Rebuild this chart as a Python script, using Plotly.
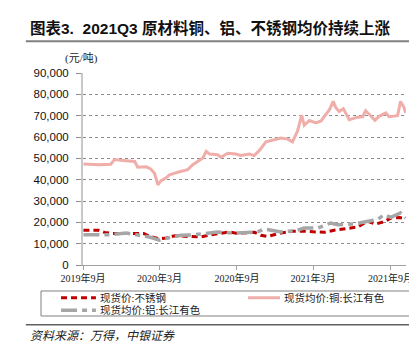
import plotly.graph_objects as go

# ---- data ----
copper_dates = ["2019-09-02","2019-10-09","2019-11-06","2019-11-15","2019-12-05","2019-12-24","2020-01-02",
    "2020-01-09","2020-01-29","2020-02-09","2020-02-18","2020-02-26","2020-03-04","2020-03-14","2020-03-25",
    "2020-04-13","2020-05-07","2020-05-19","2020-05-31","2020-06-12","2020-06-20","2020-06-28","2020-07-17",
    "2020-07-25","2020-08-10","2020-08-29","2020-09-10","2020-10-01","2020-10-12","2020-10-24","2020-11-09",
    "2020-11-29","2020-12-15","2020-12-31","2021-01-11","2021-01-23","2021-02-02","2021-02-08","2021-02-20",
    "2021-03-08","2021-03-20","2021-03-28","2021-04-09","2021-04-18","2021-04-24","2021-05-02","2021-05-12",
    "2021-05-26","2021-06-15","2021-06-27","2021-07-04","2021-07-16","2021-07-26","2021-08-05","2021-08-21",
    "2021-08-29","2021-09-18","2021-09-25","2021-10-03","2021-10-07"]
copper_values = [47300,47000,47200,49400,49000,48700,48500,
    45800,46000,45000,43000,37600,39400,40500,42300,
    43500,44700,47000,48500,50200,53300,52000,51700,
    50500,52400,52000,51300,52000,51300,53600,57700,
    58600,59500,59000,57700,62700,70200,65500,67700,
    66600,67500,69700,72800,76700,73900,72000,73300,
    68100,69300,69500,72300,70000,67800,69700,71300,
    69500,70000,76700,73900,71300]

steel_dates = ["2019-09-02","2019-10-07","2019-10-22","2019-11-07","2019-12-29","2020-01-25","2020-02-06",
    "2020-03-01","2020-03-17","2020-04-06","2020-05-07","2020-06-08","2020-07-02","2020-08-14","2020-08-30",
    "2020-09-27","2020-10-13","2020-10-28","2020-11-13","2020-12-15","2021-01-11","2021-02-08","2021-03-28",
    "2021-04-20","2021-05-14","2021-06-15","2021-07-08","2021-07-28","2021-08-17","2021-09-02","2021-09-22",
    "2021-10-07"]
steel_values = [16300,16300,15300,14800,14800,14700,13400,
    12300,12700,13700,13400,13200,14200,15500,14900,
    15300,15300,13900,13400,15000,15800,15800,15300,
    16300,16900,17800,20500,19200,20300,22000,22300,
    21700]

alu_dates = ["2019-09-02","2019-10-14","2019-11-03","2019-12-13","2020-01-09","2020-02-06","2020-03-01",
    "2020-03-21","2020-04-21","2020-05-23","2020-06-28","2020-07-17","2020-08-26","2020-09-27","2020-10-20",
    "2020-11-05","2020-11-25","2020-12-15","2021-01-19","2021-02-08","2021-03-12","2021-04-12","2021-04-28",
    "2021-06-07","2021-07-04","2021-08-01","2021-08-17","2021-09-02","2021-09-25","2021-10-07"]
alu_values = [14200,14200,14200,15000,13900,13100,11600,
    12700,13900,14200,15000,15500,14900,15200,15500,
    16900,16300,15500,16100,17300,17300,19700,18900,
    19200,20300,21300,23600,22300,24400,22000]

series_names = ["现货价:不锈钢", "现货均价:铜:长江有色", "现货均价:铝:长江有色"]
tick_dates = ["2019-09-01", "2020-03-01", "2020-09-01", "2021-03-01", "2021-09-01"]
tick_labels = ["2019年9月", "2020年3月", "2020年9月", "2021年3月", "2021年9月"]
y_ticks = [0, 10000, 20000, 30000, 40000, 50000, 60000, 70000, 80000, 90000]

SERIF = "Liberation Serif, Noto Sans CJK SC"
SANS = "Liberation Sans, Noto Sans CJK SC"

styles = [
    dict(color="#C00000", width=3, dash="6px,4px"),
    dict(color="#F0AEAA", width=3),
    dict(color="#A6A6A6", width=3.5, dash="16px,5px,5px,5px"),
]

fig = go.Figure()
fig.add_trace(go.Scatter(x=steel_dates, y=steel_values, name=series_names[0], mode="lines", line=styles[0]))
fig.add_trace(go.Scatter(x=copper_dates, y=copper_values, name=series_names[1], mode="lines", line=styles[1]))
fig.add_trace(go.Scatter(x=alu_dates, y=alu_values, name=series_names[2], mode="lines", line=styles[2]))

fig.update_layout(
    width=417, height=355,
    margin=dict(l=75, r=19, t=65, b=98),
    paper_bgcolor="white", plot_bgcolor="white",
    showlegend=False,
    xaxis=dict(type="date", range=["2019-09-01", "2021-10-08"], tickvals=tick_dates, ticktext=tick_labels,
        showgrid=False, ticks="outside", ticklen=4, tickcolor="#A0A0A0",
        showline=True, linecolor="#A0A0A0", linewidth=1,
        tickfont=dict(family=SERIF, size=10, color="#222")),
    yaxis=dict(range=[0, 90000], tickvals=y_ticks, tickformat=",d",
        showgrid=True, gridcolor="#8C8C8C", gridwidth=1, griddash="dot",
        ticks="outside", ticklen=5, tickcolor="#8C8C8C", ticklabelstandoff=5,
        showline=True, linecolor="#C8C8C8", linewidth=2, zeroline=False,
        tickfont=dict(family=SANS, size=11.5, color="#111")),
)

P = dict(xref="paper", yref="paper")

# title, rules, unit label, source
fig.add_annotation(**P, x=-0.17, y=1.234, xanchor="left", yanchor="middle",
    text="<b>图表3.  2021Q3 原材料铜、铝、不锈钢均价持续上涨</b>", showarrow=False,
    font=dict(family=SANS, size=15.5, color="#111"))
fig.add_shape(type="line", **P, x0=-0.177, x1=1.06, y0=1.165, y1=1.165,
    line=dict(color="#808080", width=2))
fig.add_annotation(**P, x=-0.062, y=1.075, xanchor="left", yanchor="middle",
    text="(元/吨)", showarrow=False, font=dict(family=SERIF, size=11, color="#222"))
fig.add_shape(type="line", **P, x0=-0.177, x1=1.06, y0=-0.311, y1=-0.311,
    line=dict(color="#606060", width=1.5))
fig.add_annotation(**P, x=-0.17, y=-0.37, xanchor="left", yanchor="middle",
    text="<i>资料来源：万得，中银证券</i>", showarrow=False,
    font=dict(family=SERIF, size=12, color="#222"))

# legend box drawn by hand (to match the compact reference legend)
fig.add_shape(type="rect", **P, x0=-0.130, x1=1.0217, y0=-0.2656, y1=-0.1354,
    line=dict(color="#808080", width=1), fillcolor="rgba(0,0,0,0)")
legend_pos = [(-0.068, 0.040, -0.170), (0.511, 0.610, -0.170), (-0.068, 0.040, -0.236)]
for name, st, (lx0, lx1, ly) in zip(series_names, styles, legend_pos):
    fig.add_shape(type="line", **P, x0=lx0, x1=lx1, y0=ly, y1=ly, line=st)
    fig.add_annotation(**P, x=lx1 + 0.01, y=ly, xanchor="left", yanchor="middle", text=name,
        showarrow=False, borderpad=0, font=dict(family=SERIF, size=10.5, color="#222"))

fig.write_html("out.html")
